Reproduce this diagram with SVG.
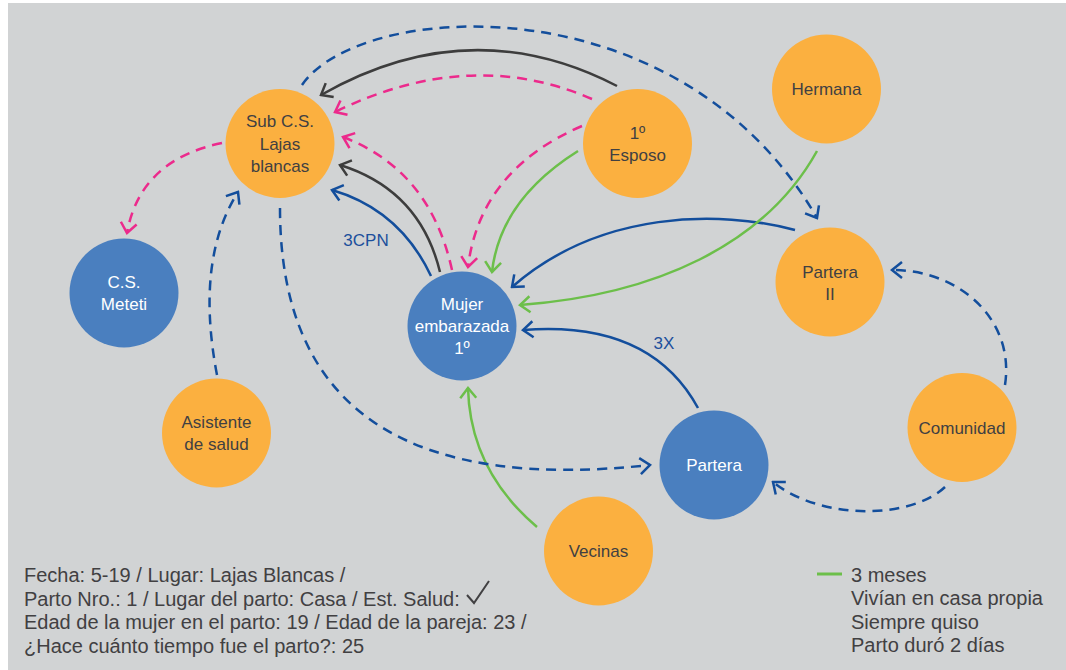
<svg xmlns="http://www.w3.org/2000/svg" width="1066" height="670" viewBox="0 0 1066 670">
<style>
.bg{fill:#d1d3d4}
.o{fill:#fbb040}
.b{fill:#4a7fbf}
.t{font-family:"Liberation Sans",Arial,sans-serif;font-size:17px;fill:#414042;text-anchor:middle}
.w{fill:#ffffff}
.lbl{font-family:"Liberation Sans",Arial,sans-serif;font-size:17px;fill:#1c4f9c;text-anchor:middle}
.note{font-family:"Liberation Sans",Arial,sans-serif;font-size:20px;fill:#414042}
.c{fill:none;stroke-width:2.5}
.db{stroke:#134e9c}
.pk{stroke:#ec2a8c}
.gr{stroke:#6cbf4a}
.dk{stroke:#3d3d3d}
.dash{stroke-dasharray:10 7}
</style>
<defs>
<marker id="aDb" viewBox="-14 -10 16 20" refX="0" refY="0" markerWidth="16" markerHeight="20" markerUnits="userSpaceOnUse" orient="auto"><path d="M-10,-8 L0,0 L-10,8" fill="none" stroke="#134e9c" stroke-width="2.5"/></marker>
<marker id="aPk" viewBox="-14 -10 16 20" refX="0" refY="0" markerWidth="16" markerHeight="20" markerUnits="userSpaceOnUse" orient="auto"><path d="M-10,-8 L0,0 L-10,8" fill="none" stroke="#ec2a8c" stroke-width="2.5"/></marker>
<marker id="aGr" viewBox="-14 -10 16 20" refX="0" refY="0" markerWidth="16" markerHeight="20" markerUnits="userSpaceOnUse" orient="auto"><path d="M-10,-8 L0,0 L-10,8" fill="none" stroke="#6cbf4a" stroke-width="2.5"/></marker>
<marker id="aDk" viewBox="-14 -10 16 20" refX="0" refY="0" markerWidth="16" markerHeight="20" markerUnits="userSpaceOnUse" orient="auto"><path d="M-10,-8 L0,0 L-10,8" fill="none" stroke="#3d3d3d" stroke-width="2.5"/></marker>
</defs>
<rect x="0" y="0" width="1066" height="670" fill="#ffffff"/>
<rect class="bg" x="8" y="3" width="1058" height="667"/>

<g id="connectors">
<path class="c db dash" d="M302,85 C360,0 680,-20 817,218" marker-end="url(#aDb)"/>
<path class="c dk" d="M617,86 Q470,10 321,95" marker-end="url(#aDk)"/>
<path class="c pk dash" d="M592,99 Q470,46 335,112" marker-end="url(#aPk)"/>
<path class="c pk dash" d="M582,126 Q480,170 468,267" marker-end="url(#aPk)"/>
<path class="c gr" d="M578,151 Q500,200 492,272" marker-end="url(#aGr)"/>
<path class="c pk dash" d="M452,270 Q430,170 343,137" marker-end="url(#aPk)"/>
<path class="c dk" d="M440,272 Q420,190 340,165" marker-end="url(#aDk)"/>
<path class="c db" d="M431,276 Q400,210 332,190" marker-end="url(#aDb)"/>
<path class="c db" d="M795,230 C720,210 600,210 512,287" marker-end="url(#aDb)"/>
<path class="c gr" d="M817,151 C765,245 655,295 520,305" marker-end="url(#aGr)"/>
<path class="c db" d="M698,408 Q650,320 523,330" marker-end="url(#aDb)"/>
<path class="c gr" d="M537,527 Q470,470 468,388" marker-end="url(#aGr)"/>
<path class="c db dash" d="M280,208 C280,420 420,490 650,465" marker-end="url(#aDb)"/>
<path class="c db dash" d="M217,375 Q195,260 238,192" marker-end="url(#aDb)"/>
<path class="c pk dash" d="M222,143 Q140,160 127,233" marker-end="url(#aPk)"/>
<path class="c db dash" d="M1005,385 C1015,320 960,270 892,270" marker-end="url(#aDb)"/>
<path class="c db dash" d="M945,487 C910,520 820,520 773,482" marker-end="url(#aDb)"/>
<text class="lbl" x="366" y="246">3CPN</text>
<text class="lbl" x="664" y="349">3X</text>
</g>

<g id="node-subcs">
<circle class="o" cx="280" cy="143.5" r="54.5"/>
<text class="t" x="280" y="127">Sub C.S.</text>
<text class="t" x="280" y="149.5">Lajas</text>
<text class="t" x="280" y="172">blancas</text>
</g>
<g id="node-esposo">
<circle class="o" cx="637.5" cy="143.5" r="54.5"/>
<text class="t" x="637.5" y="138.5">1º</text>
<text class="t" x="637.5" y="160.5">Esposo</text>
</g>
<g id="node-hermana">
<circle class="o" cx="826.5" cy="89" r="54.5"/>
<text class="t" x="826.5" y="95">Hermana</text>
</g>
<g id="node-partera2">
<circle class="o" cx="830" cy="282" r="54.5"/>
<text class="t" x="830" y="277.5">Partera</text>
<text class="t" x="830" y="300">II</text>
</g>
<g id="node-meteti">
<circle class="b" cx="124" cy="293" r="54.5"/>
<text class="t w" x="124" y="288">C.S.</text>
<text class="t w" x="124" y="310">Meteti</text>
</g>
<g id="node-mujer">
<circle class="b" cx="462" cy="326" r="54.5"/>
<text class="t w" x="462" y="310">Mujer</text>
<text class="t w" x="462" y="332">embarazada</text>
<text class="t w" x="462" y="354">1º</text>
</g>
<g id="node-asistente">
<circle class="o" cx="216.5" cy="433" r="54.5"/>
<text class="t" x="216.5" y="428">Asistente</text>
<text class="t" x="216.5" y="450">de salud</text>
</g>
<g id="node-comunidad">
<circle class="o" cx="962" cy="427.5" r="54.5"/>
<text class="t" x="962" y="433.5">Comunidad</text>
</g>
<g id="node-partera">
<circle class="b" cx="714" cy="465" r="54.5"/>
<text class="t w" x="714" y="471">Partera</text>
</g>
<g id="node-vecinas">
<circle class="o" cx="598.5" cy="551" r="54.5"/>
<text class="t" x="598.5" y="557">Vecinas</text>
</g>

<g id="notes">
<text class="note" x="24" y="582">Fecha: 5-19 / Lugar: Lajas Blancas /</text>
<text class="note" x="24" y="606">Parto Nro.: 1 / Lugar del parto: Casa / Est. Salud:</text>
<path d="M467,595 L474,603 L489,581" fill="none" stroke="#414042" stroke-width="2"/>
<text class="note" x="24" y="629">Edad de la mujer en el parto: 19 / Edad de la pareja: 23 /</text>
<text class="note" x="24" y="653">¿Hace cuánto tiempo fue el parto?: 25</text>
</g>
<g id="legend">
<line x1="817" y1="574" x2="842" y2="574" stroke="#6cbf4a" stroke-width="3"/>
<text class="note" x="851" y="582">3 meses</text>
<text class="note" x="851" y="605">Vivían en casa propia</text>
<text class="note" x="851" y="629">Siempre quiso</text>
<text class="note" x="851" y="652">Parto duró 2 días</text>
</g>
</svg>
